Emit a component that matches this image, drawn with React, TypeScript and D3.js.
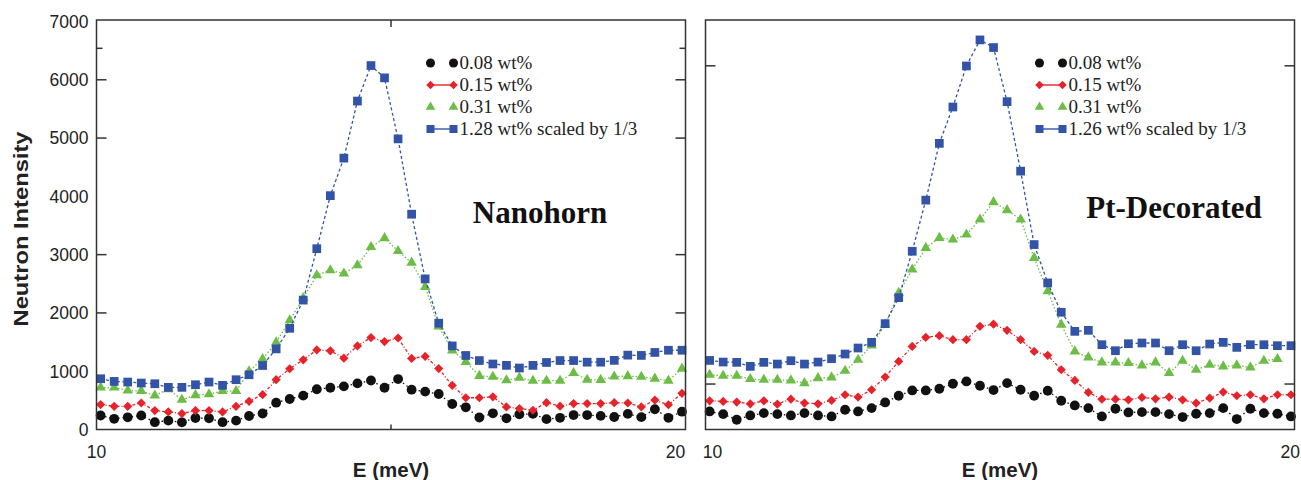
import React from 'react';
import * as d3 from 'd3';

// energy transfer (meV), same grid for both samples
const energy = [
  10.07, 10.30, 10.53, 10.76, 10.99, 11.22, 11.45, 11.68, 11.91, 12.14, 12.37,
  12.59, 12.82, 13.05, 13.28, 13.51, 13.74, 13.97, 14.20, 14.43, 14.66, 14.89,
  15.12, 15.35, 15.58, 15.81, 16.04, 16.27, 16.50, 16.73, 16.96, 17.18, 17.41,
  17.64, 17.87, 18.10, 18.33, 18.56, 18.79, 19.02, 19.25, 19.48, 19.71, 19.94,
];

// Nanohorn panel
const horn008 = [240, 183, 209, 240, 126, 152, 123, 197, 192, 126, 152, 232, 274, 460, 524, 581, 690, 717, 740, 791, 840, 717, 865, 683, 650, 609, 437, 380, 206, 278, 192, 260, 268, 178, 200, 248, 248, 234, 214, 268, 212, 348, 200, 306];
const horn015 = [427, 398, 398, 455, 324, 302, 273, 324, 324, 302, 398, 484, 598, 854, 1042, 1195, 1366, 1349, 1224, 1434, 1577, 1508, 1570, 1220, 1254, 1045, 756, 545, 545, 560, 387, 360, 330, 460, 400, 445, 445, 445, 460, 455, 387, 505, 425, 620];
const horn031 = [720, 720, 668, 660, 582, 690, 511, 590, 605, 660, 660, 1000, 1210, 1495, 1873, 2255, 2647, 2732, 2675, 2817, 3130, 3284, 3062, 2863, 2447, 1767, 1355, 1160, 920, 905, 845, 888, 837, 837, 837, 968, 854, 852, 910, 916, 905, 872, 837, 1045];
const horn128 = [871, 825, 814, 797, 785, 723, 723, 768, 814, 757, 854, 939, 1098, 1383, 1736, 2220, 3102, 4012, 4656, 5635, 6244, 6033, 4986, 3694, 2584, 1824, 1434, 1270, 1183, 1124, 1100, 1055, 1100, 1150, 1183, 1183, 1155, 1155, 1186, 1276, 1271, 1322, 1360, 1360];

// Pt-decorated panel
const pt008 = [310, 264, 167, 241, 281, 264, 241, 281, 241, 224, 339, 310, 367, 464, 579, 670, 670, 699, 785, 825, 751, 676, 796, 682, 579, 665, 493, 413, 367, 224, 356, 293, 298, 298, 264, 213, 270, 281, 367, 178, 356, 281, 270, 224];
const pt015 = [492, 481, 470, 441, 492, 435, 521, 453, 441, 498, 596, 556, 682, 899, 1168, 1426, 1581, 1609, 1541, 1541, 1770, 1807, 1701, 1541, 1340, 1272, 1025, 842, 636, 521, 521, 510, 550, 527, 556, 510, 453, 539, 642, 579, 596, 527, 596, 596];
const pt031 = [939, 922, 922, 865, 853, 853, 842, 796, 882, 893, 1008, 1197, 1443, 1800, 2343, 2744, 3116, 3288, 3259, 3345, 3603, 3900, 3763, 3603, 2945, 2371, 1799, 1340, 1237, 1151, 1151, 1140, 1100, 1151, 968, 1180, 1025, 1111, 1082, 1100, 1066, 1180, 1209];
const pt126 = [1185, 1157, 1152, 1083, 1152, 1123, 1180, 1123, 1157, 1215, 1295, 1398, 1495, 1816, 2262, 3058, 3935, 4909, 5533, 6237, 6684, 6553, 5625, 4433, 3173, 2515, 2011, 1684, 1701, 1455, 1352, 1472, 1484, 1484, 1352, 1455, 1352, 1466, 1495, 1409, 1455, 1455, 1438, 1438];

const yTickLabels = [0, 1000, 2000, 3000, 4000, 5000, 6000, 7000];
const hornInnerTicks = [2000, 3000, 5000, 6000];
const ptInnerTicks = [780, 6240];
const hornLegend = ['0.08 wt%', '0.15 wt%', '0.31 wt%', '1.28 wt% scaled by 1/3'];
const ptLegend = ['0.08 wt%', '0.15 wt%', '0.31 wt%', '1.26 wt% scaled by 1/3'];

const styles = [
  { color: '#111111', symbol: d3.symbolCircle, size: 76, dash: '1.5,3', legendLine: false },
  { color: '#e6232b', symbol: d3.symbolDiamond2, size: 54, dash: '3,2,1,2', legendLine: true },
  { color: '#6cbd45', symbol: d3.symbolTriangle, size: 48, dash: '1.5,2', legendLine: false },
  { color: '#3253a6', symbol: d3.symbolSquare, size: 76, dash: '3,2.5', legendLine: true },
];

const W = 1301;
const H = 480;
const top = 20;
const bottom = 429.5;
const sans = "'Liberation Sans', Arial, sans-serif";
const serif = "'Liberation Serif', 'Times New Roman', serif";

const y = d3.scaleLinear().domain([0, 7000]).range([bottom, 21.5]);

const Panel = ({ x0, x1, series, legend, title, titleX, titleY, innerTicks, yLabels, midTick, right }) => {
  const x = d3.scaleLinear().domain([10, 20]).range([x0, x1]);
  const line = d3.line<[number, number]>().x(d => x(d[0])).y(d => y(d[1]));
  const legX = x0 + 334;
  const legRows = [63, 85, 107, 129];

  return (
    <g>
      {series.map((vals, si) => {
        const pts = vals.map((v, i) => [energy[i], v] as [number, number]);
        const st = styles[si];
        const sym = d3.symbol().type(st.symbol).size(st.size)();
        return (
          <g key={si}>
            <path d={line(pts)} fill="none" stroke={st.color} strokeWidth={1.3} strokeDasharray={st.dash} />
            {pts.map((p, i) => (
              <path key={i} d={sym} transform={`translate(${x(p[0])},${y(p[1])})`} fill={st.color} />
            ))}
          </g>
        );
      })}

      {/* frame */}
      <rect x={x0} y={top} width={x1 - x0} height={bottom - top} fill="none" stroke="#333" strokeWidth={1.5} />
      {innerTicks.map(t => (
        <g key={t}>
          <line x1={x0} x2={x0 + 10} y1={y(t)} y2={y(t)} stroke="#333" strokeWidth={1.5} />
          <line x1={x1} x2={x1 - 10} y1={y(t)} y2={y(t)} stroke="#333" strokeWidth={1.5} />
        </g>
      ))}
      {midTick && (
        <g>
          <line x1={x0} x2={x0 + 6} y1={y(6540)} y2={y(6540)} stroke="#333" strokeWidth={1.5} />
          <line x1={x1} x2={x1 - 6} y1={y(6540)} y2={y(6540)} stroke="#333" strokeWidth={1.5} />
          <line x1={x(15)} x2={x(15)} y1={top} y2={top + 7} stroke="#333" strokeWidth={1.5} />
          <line x1={x(15)} x2={x(15)} y1={bottom} y2={bottom - 5} stroke="#333" strokeWidth={1.5} />
        </g>
      )}

      {yLabels && yTickLabels.map(t => (
        <text key={t} x={x0 - 8} y={y(t)} dy="0.36em" textAnchor="end" fontFamily={sans} fontSize={17.5} fill="#222">{t}</text>
      ))}
      <text x={x(10) + (right ? 7 : 0)} y={458} textAnchor="middle" fontFamily={sans} fontSize={17.5} fill="#222">10</text>
      <text x={right ? W - 1 : x(20) - 10} y={458} textAnchor={right ? 'end' : 'middle'} fontFamily={sans} fontSize={17.5} fill="#222">20</text>
      <text x={(x0 + x1) / 2} y={477} textAnchor="middle" fontFamily={sans} fontWeight="bold" fontSize={20.5} fill="#222">E (meV)</text>

      {legend.map((lab, i) => {
        const st = styles[i];
        const sym = d3.symbol().type(st.symbol).size(st.size * 0.85)();
        const ly = legRows[i];
        return (
          <g key={lab}>
            {st.legendLine && <line x1={legX} x2={legX + 23} y1={ly} y2={ly} stroke={st.color} strokeWidth={1.4} />}
            <path d={sym} transform={`translate(${legX},${ly})`} fill={st.color} />
            <path d={sym} transform={`translate(${legX + 23},${ly})`} fill={st.color} />
            <text x={legX + 29} y={ly + 6} fontFamily={serif} fontSize={19} fill="#222">{lab}</text>
          </g>
        );
      })}

      <text x={titleX} y={titleY} textAnchor="middle" fontFamily={serif} fontWeight="bold" fontSize={31} fill="#111">{title}</text>
    </g>
  );
};

export default function App() {
  return (
    <svg width={W} height={H} style={{ position: 'absolute', left: 0, top: 0, background: '#fff' }}>
      <rect width={W} height={H} fill="#fff" />
      <Panel
        x0={96.5} x1={685.5}
        series={[horn008, horn015, horn031, horn128]}
        legend={hornLegend}
        title="Nanohorn" titleX={540} titleY={223}
        innerTicks={hornInnerTicks} yLabels midTick right={false}
      />
      <Panel
        x0={705.5} x1={1294.5}
        series={[pt008, pt015, pt031, pt126]}
        legend={ptLegend}
        title="Pt-Decorated" titleX={1174} titleY={218}
        innerTicks={ptInnerTicks} yLabels={false} midTick={false} right
      />
      <text
        transform="translate(28,229) rotate(-90)"
        textAnchor="middle" fontFamily={sans} fontWeight="bold" fontSize={21}
        textLength={195} lengthAdjust="spacingAndGlyphs" fill="#222"
      >
        Neutron Intensity
      </text>
    </svg>
  );
}
